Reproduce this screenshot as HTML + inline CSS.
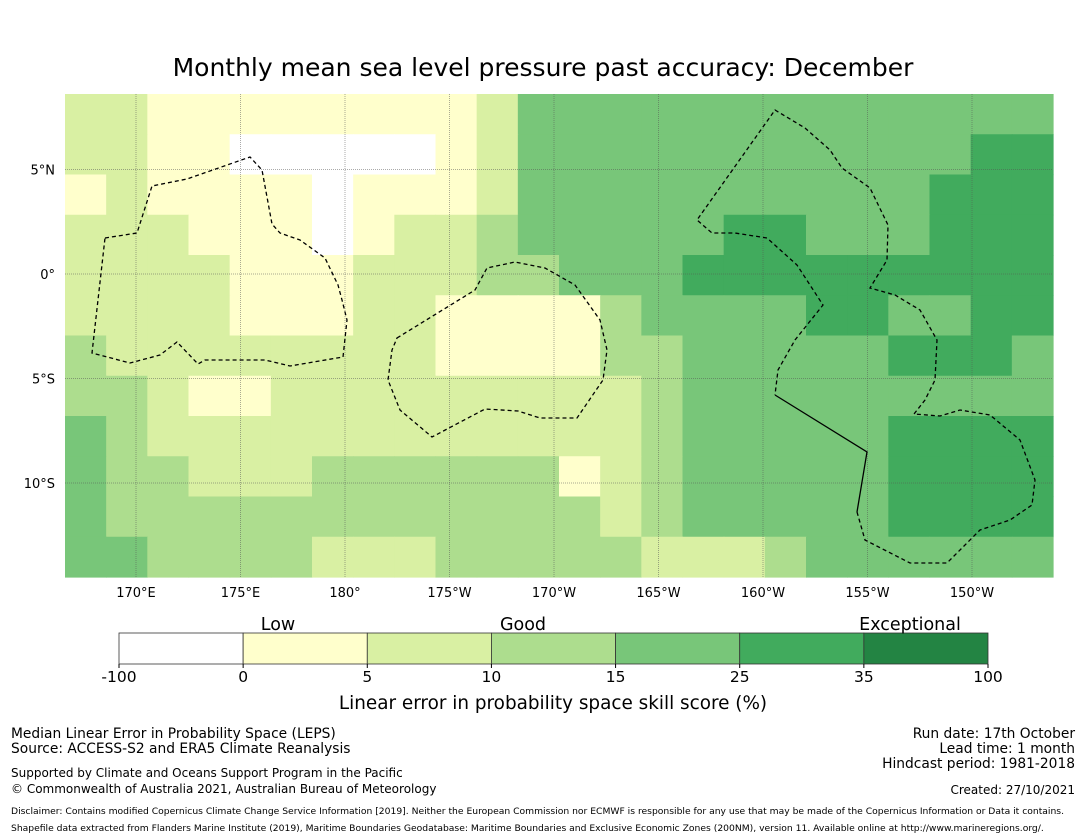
<!DOCTYPE html>
<html><head><meta charset="utf-8"><style>
body{margin:0;background:#fff;width:1085px;height:839px;overflow:hidden;font-family:"DejaVu Sans","Liberation Sans",sans-serif;}
svg{position:absolute;left:0;top:0;font-family:"DejaVu Sans","Liberation Sans",sans-serif;}
</style></head><body>
<svg id="chart" width="1085" height="839">
<text x="543" y="76" font-size="25" text-anchor="middle">Monthly mean sea level pressure past accuracy: December</text>
<g id="cells"></g>
<g id="grid"></g>
<g fill="none" stroke="#000" stroke-width="1.3">
<polygon stroke-dasharray="4,3" points="105,238 137,233 152,186 187,179 250,157 262,170 272,224 280,233 300,240 325,258 338,285 342,300 347,320 343,357 290,366 265,360 205,360 198,364 177,342 160,355 130,363 92,353"/>
<polygon stroke-dasharray="4,3" points="397,338 475,290 487,268 515,262 545,268 575,285 600,320 607,350 603,380 577,418 540,418 518,411 485,409 432,437 400,410 388,380 392,350"/>
<polyline stroke-dasharray="4,3" points="857,512 865,540 910,563 947,563 980,530 1010,520 1032,505 1035,480 1020,440 990,415 960,410 940,416 914,414 925,400 935,380 937,340 920,310 895,295 870,288 887,260 888,225 870,188 842,168 830,150 805,128 775,110 697,220 712,233 735,233 767,238 797,265 823,305 795,340 778,370 775,395"/>
<polyline points="775,395 867,452 857,512"/>
</g>
<g id="xt" font-size="13" text-anchor="middle"></g>
<g id="yt" font-size="13" text-anchor="end"></g>
<g id="cbar"></g>
<g font-size="17.5" text-anchor="middle">
<text x="278" y="630">Low</text>
<text x="523" y="630">Good</text>
<text x="910" y="630">Exceptional</text>
</g>
<text x="553" y="709" font-size="18.4" text-anchor="middle">Linear error in probability space skill score (%)</text>
<g font-size="13.8">
<text x="11" y="738">Median Linear Error in Probability Space (LEPS)</text>
<text x="11" y="753">Source: ACCESS-S2 and ERA5 Climate Reanalysis</text>
<text x="11" y="777" font-size="12">Supported by Climate and Oceans Support Program in the Pacific</text>
<text x="11" y="793" font-size="12">© Commonwealth of Australia 2021, Australian Bureau of Meteorology</text>
</g>
<g font-size="13.8" text-anchor="end">
<text x="1075" y="738">Run date: 17th October</text>
<text x="1075" y="753">Lead time: 1 month</text>
<text x="1075" y="768">Hindcast period: 1981-2018</text>
<text x="1075" y="794" font-size="12">Created: 27/10/2021</text>
</g>
<g font-size="9.2">
<text x="11" y="814">Disclaimer: Contains modified Copernicus Climate Change Service Information [2019]. Neither the European Commission nor ECMWF is responsible for any use that may be made of the Copernicus Information or Data it contains.</text>
<text x="11" y="831">Shapefile data extracted from Flanders Marine Institute (2019), Maritime Boundaries Geodatabase: Maritime Boundaries and Exclusive Economic Zones (200NM), version 11. Available online at http://www.marineregions.org/.</text>
</g>
</svg>
<script>
const colors=["#ffffff","#ffffcc","#d9f0a3","#addd8e","#78c679","#41ab5d","#238443"];
const cbTicks=["-100","0","5","10","15","25","35","100"];
const lonTicks=[170,175,180,185,190,195,200,205,210];
const lonLabels=["170°E","175°E","180°","175°W","170°W","165°W","160°W","155°W","150°W"];
const latTicks=[5,0,-5,-10];
const latLabels=["5°N","0°","5°S","10°S"];
const gridRows=[
[2,2,1,1,1,1,1,1,1,1,2,4,4,4,4,4,4,4,4,4,4,4,4,4],
[2,2,1,1,0,0,0,0,0,1,2,4,4,4,4,4,4,4,4,4,4,4,5,5],
[1,2,1,1,1,1,0,1,1,1,2,4,4,4,4,4,4,4,4,4,4,5,5,5],
[2,2,2,1,1,1,0,1,2,2,3,4,4,4,4,4,5,5,4,4,4,5,5,5],
[2,2,2,2,1,1,1,2,2,2,3,3,4,4,4,5,5,5,5,5,5,5,5,5],
[2,2,2,2,1,1,1,2,2,1,1,1,1,3,4,4,4,4,5,5,4,4,5,5],
[3,2,2,2,2,2,2,2,2,1,1,1,1,3,3,4,4,4,4,4,5,5,5,4],
[3,3,2,1,1,2,2,2,2,2,2,2,2,2,3,4,4,4,4,4,4,4,4,4],
[4,3,2,2,2,2,2,2,2,2,2,2,2,2,3,4,4,4,4,4,5,5,5,5],
[4,3,3,2,2,2,3,3,3,3,3,3,1,2,3,4,4,4,4,4,5,5,5,5],
[4,3,3,3,3,3,3,3,3,3,3,3,3,2,3,4,4,4,4,4,5,5,5,5],
[4,4,3,3,3,3,2,2,2,3,3,3,3,3,2,2,2,3,4,4,4,4,4,4]];
const NS="http://www.w3.org/2000/svg";
const L=65,R=1053,T=94,B=577;
const xLon=lon=>136+(lon-170)*20.9;
const yLat=lat=>274-lat*20.9;
function mk(t,a,p){const e=document.createElementNS(NS,t);for(const k in a)e.setAttribute(k,a[k]);p.appendChild(e);return e;}
const cells=document.getElementById('cells');
const nr=gridRows.length,nc=gridRows[0].length,cw=(R-L)/nc,ch=(B-T)/nr;
gridRows.forEach((row,r)=>row.forEach((v,c)=>{
 const e=mk('rect',{x:L+c*cw,y:T+r*ch,width:cw+0.6,height:ch+0.6,fill:colors[v]},cells);
 
 
}));
const grid=document.getElementById('grid'),xt=document.getElementById('xt'),yt=document.getElementById('yt');
lonTicks.forEach((lo,i)=>{const x=xLon(lo);
 mk('line',{x1:x,x2:x,y1:T,y2:B,stroke:'#555','stroke-width':0.5,'stroke-dasharray':'1,1'},grid);
 const t=mk('text',{x:x,y:597},xt);t.textContent=lonLabels[i];
 
 });
latTicks.forEach((la,i)=>{const y=yLat(la);
 mk('line',{x1:L,x2:R,y1:y,y2:y,stroke:'#555','stroke-width':0.5,'stroke-dasharray':'1,1'},grid);
 const t=mk('text',{x:55,y:y+5},yt);t.textContent=latLabels[i];
 
 });
const cb=document.getElementById('cbar');const cbL=119,cbR=988,sw=(cbR-cbL)/7;
for(let i=0;i<7;i++){const e=mk('rect',{x:cbL+i*sw,y:633,width:sw,height:31,fill:colors[i],stroke:'#333','stroke-width':0.8},cb);
 
 }
cbTicks.forEach((t,i)=>{const x=cbL+i*sw;mk('line',{x1:x,x2:x,y1:664,y2:668,stroke:'#000'},cb);
 const e=mk('text',{x:x,y:682,'font-size':15.5,'text-anchor':'middle'},cb);e.textContent=t;
 
 });
</script>
</body></html>
